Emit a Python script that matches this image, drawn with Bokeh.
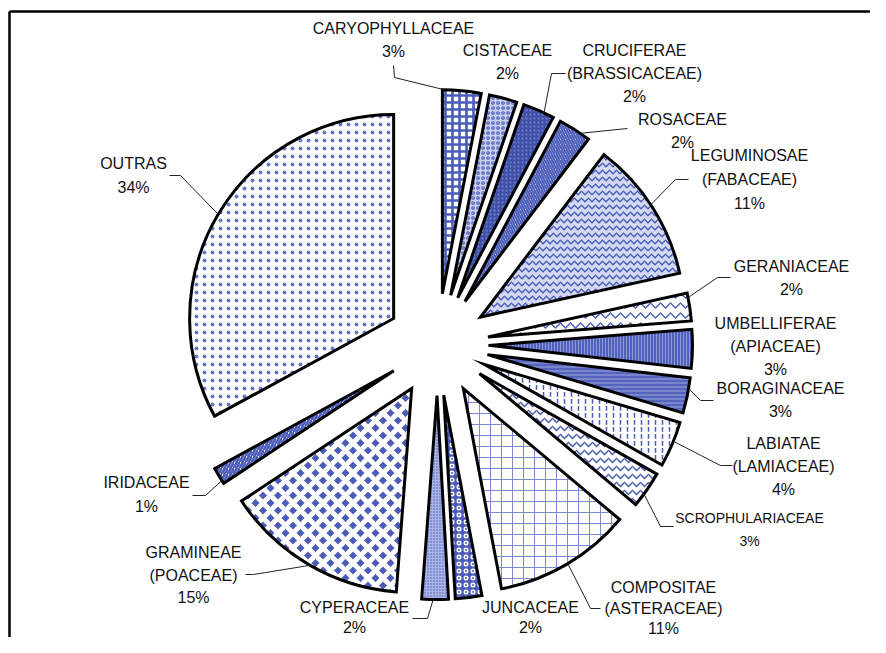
import math
from bokeh.plotting import figure
from bokeh.models import Range1d
from bokeh.core.properties import value
from bokeh.embed import file_html
from bokeh.resources import INLINE

# ---------------- data ----------------
families = ["CARYOPHYLLACEAE", "CISTACEAE", "CRUCIFERAE", "ROSACEAE", "LEGUMINOSAE",
            "GERANIACEAE", "UMBELLIFERAE", "BORAGINACEAE", "LABIATAE", "SCROPHULARIACEAE",
            "COMPOSITAE", "JUNCACEAE", "CYPERACEAE", "GRAMINEAE", "IRIDACEAE", "OUTRAS"]
synonyms = ["", "", "(BRASSICACEAE)", "", "(FABACEAE)",
            "", "(APIACEAE)", "", "(LAMIACEAE)", "",
            "(ASTERACEAE)", "", "", "(POACEAE)", "", ""]
shares = [3.05, 2.2, 2.5, 2.6, 11.2,
          2.2, 3.05, 2.8, 3.6, 2.9,
          10.9, 2.1, 2.1, 14.5, 1.35, 32.95]
pct_labels = ["3%", "2%", "2%", "2%", "11%",
              "2%", "3%", "3%", "4%", "3%",
              "11%", "2%", "2%", "15%", "1%", "34%"]

# ---------------- layout / style ----------------
W, H = 870, 637
def X(sx): return sx
def Y(sy): return H - sy

CX, CY = X(437), Y(344)
R = 204
EXPLODE = 51

BLUE = "#4a5bb8"
styles = [
    dict(fill_color="white", hatch_pattern="+", hatch_color=BLUE, hatch_scale=7, hatch_weight=2.6),
    dict(fill_color="#c9d0ef", hatch_pattern="o", hatch_color=BLUE, hatch_scale=5, hatch_weight=1.2),
    dict(fill_color="#3f50a8", hatch_pattern=".", hatch_color="#7482cc", hatch_scale=4, hatch_weight=1),
    dict(fill_color="white", hatch_pattern="\\", hatch_color=BLUE, hatch_scale=5, hatch_weight=2),
    dict(fill_color="#d3d9f3", hatch_pattern="v", hatch_color=BLUE, hatch_scale=7, hatch_weight=1.3),
    dict(fill_color="white", hatch_pattern="v", hatch_color=BLUE, hatch_scale=10, hatch_weight=1.3),
    dict(fill_color="#5062bb", hatch_pattern="|", hatch_color="#8c98d8", hatch_scale=3, hatch_weight=1),
    dict(fill_color="#5565bd", hatch_pattern="-", hatch_color="#9ba6de", hatch_scale=4, hatch_weight=1),
    dict(fill_color="white", hatch_pattern=":", hatch_color=BLUE, hatch_scale=7, hatch_weight=1.5),
    dict(fill_color="white", hatch_pattern="v", hatch_color=BLUE, hatch_scale=8, hatch_weight=1.5),
    dict(fill_color="white", hatch_pattern="+", hatch_color="#7f8bd0", hatch_scale=11, hatch_weight=1),
    dict(fill_color=BLUE, hatch_pattern="o", hatch_color="white", hatch_scale=7, hatch_weight=1.5),
    dict(fill_color="#aab4e6", hatch_pattern=".", hatch_color=BLUE, hatch_scale=3, hatch_weight=1),
    dict(fill_color=BLUE, hatch_pattern="x", hatch_color="white", hatch_scale=15, hatch_weight=5),
    dict(fill_color="white", hatch_pattern="/", hatch_color=BLUE, hatch_scale=6, hatch_weight=2.5),
    dict(fill_color="white", hatch_pattern=".", hatch_color="#6a78c8", hatch_scale=8, hatch_weight=0.5),
]

# label positions (screen px: centre x, first line y) and line spacing
label_pos = [(393, 28), (507, 50), (634, 50), (682, 119), (749, 155),
             (791, 266), (775, 323), (780, 388), (783, 443), (749, 517),
             (663, 587), (530, 607), (354, 607), (193, 552), (146, 482), (133, 163)]
line_h = [23, 23, 23, 23, 24, 23, 23, 23, 23, 23, 20.5, 20, 20, 22.5, 24, 24]

# leader lines: fraction of the slice where it touches the arc, then elbow points (screen px)
leader_frac = [0.05, None, 0.68, 0.7, 0.48, 0.16, None, 0.3, 0.43, 0.64,
               0.49, None, 0.57, 0.49, 0.19, 0.5]
leader_pts = [[(394, 77), (393, 65)], None, [(551, 73), (565, 73)], [(627, 128)],
              [(675, 179), (688, 179)], [(717, 277), (730, 277)], None,
              [(700, 400), (713, 400)], [(720, 465), (732, 465)], [(660, 526), (673, 526)],
              [(590, 608), (600, 608)], None, [(427, 618), (412, 618)],
              [(253, 574), (245, 574)], [(205, 495), (192, 495)], [(180, 175), (169, 175)]]

# ---------------- figure ----------------
p = figure(width=W, height=H, x_range=Range1d(0, W), y_range=Range1d(0, H),
           output_backend="svg", toolbar_location=None,
           x_axis_location=None, y_axis_location=None, min_border=0)
p.grid.visible = False
p.outline_line_color = None
p.background_fill_color = "white"

# frame lines
p.line([X(9), X(900)], [Y(11), Y(11)], line_color="black", line_width=2.5)
p.line([X(9), X(9)], [Y(11), Y(700)], line_color="black", line_width=2.5)

total = sum(shares)
cum = 0.0
font = value("Liberation Sans")
for i, s in enumerate(shares):
    t1 = cum / total * 360.0
    cum += s
    t2 = cum / total * 360.0
    mid = math.radians((t1 + t2) / 2)
    ax = CX + EXPLODE * math.sin(mid)
    ay = CY + EXPLODE * math.cos(mid)
    p.wedge(x=[ax], y=[ay], radius=R,
            start_angle=math.radians(90 - t1), end_angle=math.radians(90 - t2),
            direction="clock", line_color="black", line_width=3, line_join="miter",
            **styles[i])
    # leader line
    if leader_frac[i] is not None:
        th = math.radians(t1 + (t2 - t1) * leader_frac[i])
        xs = [ax + R * math.sin(th)] + [X(px) for px, py in leader_pts[i]]
        ys = [ay + R * math.cos(th)] + [Y(py) for px, py in leader_pts[i]]
        p.line(xs, ys, line_color="#222222", line_width=1)
    # label text
    lines = [families[i]] + ([synonyms[i]] if synonyms[i] else []) + [pct_labels[i]]
    lx, ly = label_pos[i]
    size = "14px" if families[i] == "SCROPHULARIACEAE" else "16px"
    p.text(x=[X(lx)] * len(lines), y=[Y(ly + k * line_h[i]) for k in range(len(lines))],
           text=lines, text_font=font, text_font_size=value(size),
           text_align="center", text_baseline="middle", text_color="#111111")

open("out.html", "w").write(file_html(p, INLINE))
